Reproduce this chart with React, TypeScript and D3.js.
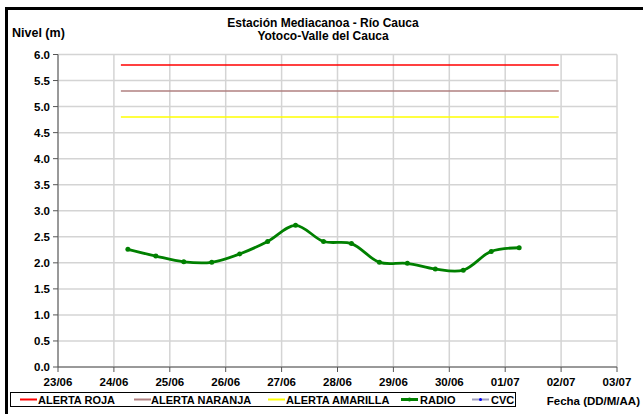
import React from "react";
import * as d3 from "d3";

const radioTimes = [
  "2010-06-24T06:00", "2010-06-24T18:00", "2010-06-25T06:00", "2010-06-25T18:00",
  "2010-06-26T06:00", "2010-06-26T18:00", "2010-06-27T06:00", "2010-06-27T18:00",
  "2010-06-28T06:00", "2010-06-28T18:00", "2010-06-29T06:00", "2010-06-29T18:00",
  "2010-06-30T06:00", "2010-06-30T18:00", "2010-07-01T06:00",
];
const radioValues = [2.26, 2.13, 2.02, 2.01, 2.17, 2.41, 2.72, 2.41, 2.37, 2.01, 1.99, 1.88, 1.86, 2.22, 2.29];

const alertNames = ["ALERTA ROJA", "ALERTA NARANJA", "ALERTA AMARILLA"];
const alertLevels = [5.8, 5.3, 4.8];
const alertColors = ["#ff0000", "#b08080", "#ffff00"];
const alertStart = "2010-06-24T03:00";
const alertEnd = "2010-07-01T23:00";

const xDomain = ["2010-06-23T00:00", "2010-07-03T00:00"];
const yTicks = [0, 0.5, 1, 1.5, 2, 2.5, 3, 3.5, 4, 4.5, 5, 5.5, 6];

const parse = d3.utcParse("%Y-%m-%dT%H:%M");
const fmt = d3.utcFormat("%d/%m");

export default function App() {
  const W = 643, H = 414;
  const x = d3.scaleUtc().domain(xDomain.map((s) => parse(s)!)).range([58, 617]);
  const y = d3.scaleLinear().domain([0, 6]).range([367, 54.5]);
  const xTicks = d3.utcDay.range(parse(xDomain[0])!, d3.utcDay.offset(parse(xDomain[1])!, 1));
  const pts = radioTimes.map((t, i) => [x(parse(t)!), y(radioValues[i])] as [number, number]);
  const line = d3.line().curve(d3.curveCatmullRom.alpha(0.5))(pts) || "";
  const font = "'Liberation Sans', Arial, sans-serif";
  const x0 = x.range()[0], x1 = x.range()[1];
  const y0 = y.range()[0], y1 = y.range()[1];

  const legendItems = [
    { label: alertNames[0], color: alertColors[0], lx: 20, tx: 38, w: 2 },
    { label: alertNames[1], color: alertColors[1], lx: 134, tx: 151, w: 2 },
    { label: alertNames[2], color: alertColors[2], lx: 268, tx: 286, w: 2 },
    { label: "RADIO", color: "#008000", lx: 401, tx: 420, w: 3 },
    { label: "CVC", color: "#a0a0c0", lx: 472, tx: 491, w: 2 },
  ];

  return (
    <svg width={W} height={H} style={{ position: "absolute", left: 0, top: 0, background: "#fff" }} fontFamily={font}>
      <rect x={0} y={0} width={W} height={H} fill="#fff" />
      {/* frame */}
      <line x1={5} x2={W} y1={8.5} y2={8.5} stroke="#000" strokeWidth={3} />
      <line x1={6.5} x2={6.5} y1={7} y2={H} stroke="#000" strokeWidth={3} />

      {/* title */}
      <text x={323} y={27} textAnchor="middle" fontSize={12} fontWeight="bold">Estación Mediacanoa - Río Cauca</text>
      <text x={323} y={40} textAnchor="middle" fontSize={12} fontWeight="bold">Yotoco-Valle del Cauca</text>
      <text x={12} y={37} fontSize={12.5} fontWeight="bold">Nivel (m)</text>

      {/* grid */}
      {yTicks.map((t) => (
        <line key={"gy" + t} x1={x0} x2={x1} y1={y(t)} y2={y(t)} stroke="#d4d4d4" strokeWidth={1.5} />
      ))}
      {xTicks.map((t, i) => (
        <line key={"gx" + i} x1={x(t)} x2={x(t)} y1={y1} y2={y0} stroke="#d4d4d4" strokeWidth={1.5} />
      ))}

      {/* axes */}
      <line x1={x0} x2={x0} y1={y1} y2={y0} stroke="#555" strokeWidth={1} />
      <line x1={x0} x2={x1} y1={y0} y2={y0} stroke="#555" strokeWidth={1} />
      {yTicks.map((t) => (
        <g key={"ty" + t}>
          <line x1={x0 - 5} x2={x0} y1={y(t)} y2={y(t)} stroke="#555" />
          <text x={x0 - 8} y={y(t) + 4} textAnchor="end" fontSize={11.5} fontWeight="bold">{t.toFixed(1)}</text>
        </g>
      ))}
      {xTicks.map((t, i) => (
        <g key={"tx" + i}>
          <line x1={x(t)} x2={x(t)} y1={y0} y2={y0 + 5} stroke="#555" />
          <text x={x(t)} y={385.5} textAnchor="middle" fontSize={11.5} fontWeight="bold">{fmt(t)}</text>
        </g>
      ))}

      {/* alert lines */}
      {alertLevels.map((v, i) => (
        <line key={"al" + i} x1={x(parse(alertStart)!)} x2={x(parse(alertEnd)!)} y1={y(v)} y2={y(v)} stroke={alertColors[i]} strokeWidth={1.5} />
      ))}

      {/* radio */}
      <path d={line} fill="none" stroke="#008000" strokeWidth={2.8} />
      {pts.map((p, i) => (
        <circle key={"p" + i} cx={p[0]} cy={p[1]} r={2.5} fill="#008000" />
      ))}

      {/* legend */}
      <rect x={10.5} y={392.5} width={505} height={14} fill="#fff" stroke="#000" strokeWidth={1} />
      {legendItems.map((it, i) => (
        <g key={"lg" + i}>
          <line x1={it.lx} x2={it.lx + 17} y1={399.5} y2={399.5} stroke={it.color} strokeWidth={it.w} />
          {it.label === "RADIO" && <circle cx={it.lx + 8.5} cy={399.5} r={2} fill="#008000" />}
          {it.label === "CVC" && <circle cx={it.lx + 8.5} cy={399.5} r={1.5} fill="#0000ff" />}
          <text x={it.tx} y={403.5} fontSize={11} fontWeight="bold">{it.label}</text>
        </g>
      ))}
      <text x={640} y={404.5} textAnchor="end" fontSize={11.5} fontWeight="bold">Fecha (DD/M/AA)</text>
    </svg>
  );
}
